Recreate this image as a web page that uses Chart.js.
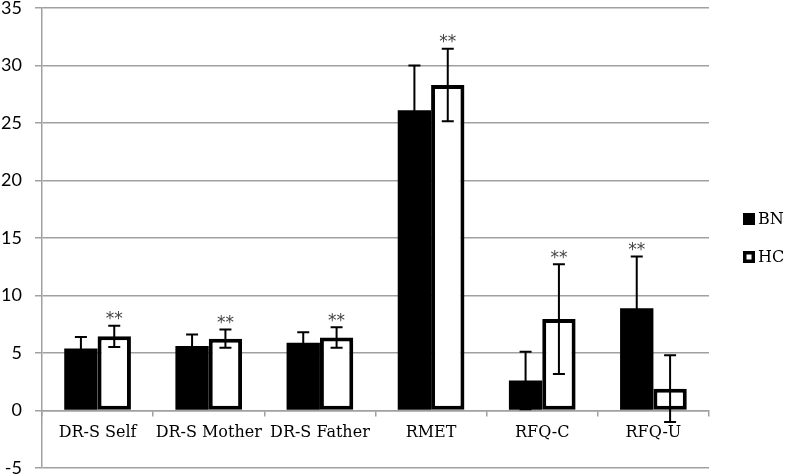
<!DOCTYPE html>
<html>
<head>
<meta charset="utf-8">
<script src="https://cdn.jsdelivr.net/npm/chart.js@4.4.0/dist/chart.umd.min.js"></script>
<style>
  html, body { margin: 0; padding: 0; background: #fff; }
  #wrap { width: 787px; height: 476px; }
</style>
</head>
<body>
<div id="wrap"><canvas id="barChart"></canvas></div>
<script>
// categories and values
const categories = ['DR-S Self', 'DR-S Mother', 'DR-S Father', 'RMET', 'RFQ-C', 'RFQ-U'];
const bnValues = [5.4, 5.6, 5.9, 26.1, 2.6, 8.9];
const bnErrors = [1.0, 1.0, 0.9, 3.9, 2.5, 4.5];
const hcValues = [6.45, 6.25, 6.35, 28.3, 7.95, 1.9];
const hcErrors = [0.93, 0.8, 0.9, 3.15, 4.77, 2.9];
// which group carries the "**" mark for each category
const starGroup = ['HC', 'HC', 'HC', 'HC', 'HC', 'BN'];
const yTicks = [-5, 0, 5, 10, 15, 20, 25, 30, 35];

const serif = 'DejaVu Serif';
const sans = 'Lato';
const gridGray = '#a0a0a0';

// error bars and the ** marks, drawn at the bar positions
const errorBarPlugin = {
  id: 'errorBars',
  afterDatasetsDraw(chart) {
    const ctx = chart.ctx;
    const yScale = chart.scales.y;
    ctx.save();
    chart.data.datasets.forEach((ds, di) => {
      const meta = chart.getDatasetMeta(di);
      meta.data.forEach((bar, i) => {
        const v = ds.data[i];
        const e = ds.errors[i];
        const top = yScale.getPixelForValue(v + e);
        const bottom = yScale.getPixelForValue(v - e);
        ctx.strokeStyle = '#000';
        ctx.lineWidth = 2;
        ctx.beginPath();
        ctx.moveTo(bar.x, top);
        ctx.lineTo(bar.x, bottom);
        ctx.moveTo(bar.x - 6, top);
        ctx.lineTo(bar.x + 6, top);
        ctx.moveTo(bar.x - 6, bottom);
        ctx.lineTo(bar.x + 6, bottom);
        ctx.stroke();
        if (starGroup[i] === ds.label) {
          ctx.fillStyle = '#444';
          ctx.font = '17px "DejaVu Sans"';
          ctx.textAlign = 'center';
          ctx.textBaseline = 'middle';
          ctx.fillText('**', bar.x, top - 6);
        }
      });
    });
    ctx.restore();
  }
};

// legend on the right, built from the datasets
const sideLegendPlugin = {
  id: 'sideLegend',
  afterDraw(chart) {
    const ctx = chart.ctx;
    ctx.save();
    chart.data.datasets.forEach((ds, di) => {
      const cy = 219 + di * 38;
      const x = 743;
      ctx.fillStyle = ds.borderColor;
      ctx.fillRect(x, cy - 6, 12, 12);
      if (ds.borderWidth > 0) {
        ctx.fillStyle = ds.backgroundColor;
        ctx.fillRect(x + 3.5, cy - 2.5, 5, 5);
      }
      ctx.fillStyle = '#000';
      ctx.font = '16px "' + serif + '"';
      ctx.textAlign = 'left';
      ctx.textBaseline = 'middle';
      ctx.fillText(ds.label, x + 15, cy + 1);
    });
    ctx.restore();
  }
};

const ctx = document.getElementById('barChart');
new Chart(ctx, {
  type: 'bar',
  data: {
    labels: categories,
    datasets: [
      {
        label: 'BN',
        data: bnValues,
        errors: bnErrors,
        backgroundColor: '#000',
        borderColor: '#000',
        borderWidth: 0
      },
      {
        label: 'HC',
        data: hcValues,
        errors: hcErrors,
        backgroundColor: '#fff',
        borderColor: '#000',
        borderWidth: 4,
        borderSkipped: false
      }
    ]
  },
  options: {
    responsive: true,
    maintainAspectRatio: false,
    animation: false,
    datasets: {
      bar: { categoryPercentage: 0.6, barPercentage: 1.0 }
    },
    layout: { padding: { top: 8, right: 78, bottom: 8, left: 0 } },
    plugins: {
      legend: { display: false },
      tooltip: { enabled: false }
    },
    scales: {
      x: {
        position: { y: 0 },
        grid: {
          display: true,
          drawOnChartArea: false,
          drawTicks: true,
          tickLength: 5,
          color: gridGray,
          lineWidth: 1.5
        },
        border: { color: gridGray, width: 1.5 },
        ticks: {
          color: '#000',
          padding: 8,
          maxRotation: 0,
          minRotation: 0,
          autoSkip: false,
          font: { family: serif, size: 16 }
        },
        afterFit(scale) {
          scale.height = 0;
          scale.paddingLeft = 0;
          scale.paddingRight = 0;
        }
      },
      y: {
        min: -5,
        max: 35,
        afterBuildTicks(scale) {
          scale.ticks = yTicks.map(v => ({ value: v }));
        },
        grid: {
          color: gridGray,
          lineWidth: 1.5,
          tickLength: 7
        },
        border: { color: gridGray, width: 1.5 },
        ticks: {
          color: '#000',
          padding: 13,
          font: { family: sans, size: 18 }
        },
        afterFit(scale) {
          scale.width = 42;
          scale.paddingTop = 0;
          scale.paddingBottom = 0;
        }
      }
    }
  },
  plugins: [errorBarPlugin, sideLegendPlugin]
});
</script>
</body>
</html>
